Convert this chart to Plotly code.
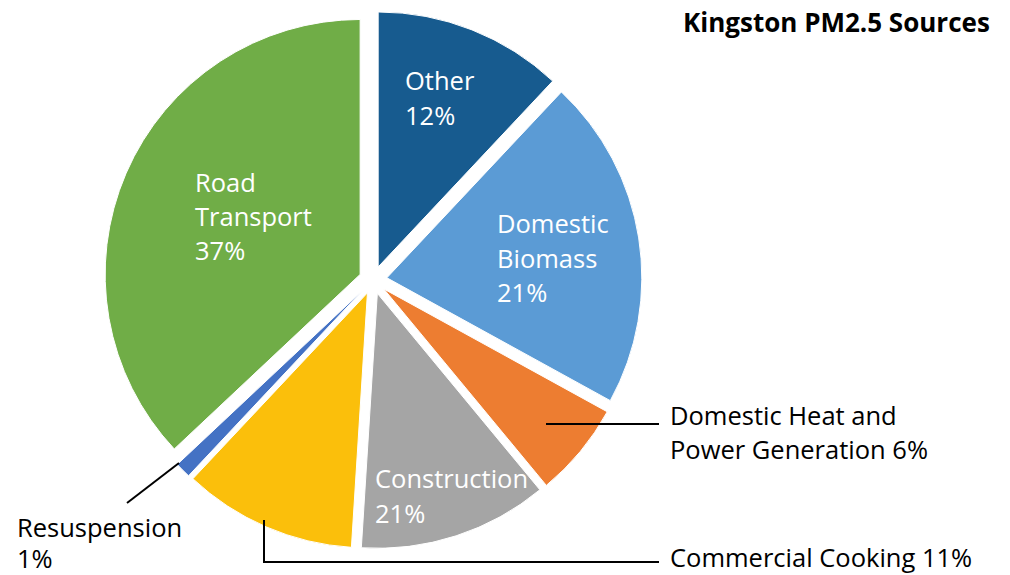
import plotly.graph_objects as go

W, H = 1010, 575

# Data
labels = ["Other", "Domestic Biomass", "Domestic Heat and Power Generation",
          "Construction", "Commercial Cooking", "Resuspension", "Road Transport"]
values = [12, 21, 6, 12, 11, 1, 37]          # visual slice sizes
label_pct = ["12%", "21%", "6%", "21%", "11%", "1%", "37%"]   # printed labels
colors = ["#175B8F", "#5B9BD5", "#ED7D31", "#A5A5A5", "#FBBF0B", "#4472C4", "#70AD47"]
title_text = "Kingston PM2.5 Sources"

FONT = "Open Sans"
FS = 25.5


def px(x):
    return x / W


def py(y):
    return 1 - y / H


fig = go.Figure()
fig.add_trace(go.Pie(
    labels=labels, values=values, sort=False, direction="clockwise", rotation=0,
    marker=dict(colors=colors, line=dict(color="white", width=1)),
    pull=[0.055] * len(values),
    textinfo="none", hoverinfo="skip", showlegend=False,
    domain=dict(x=[px(104), px(642)], y=[py(549), py(11)]),
))

annotations = []


def add_text(x, y, text, color):
    annotations.append(dict(x=px(x), y=py(y), xref="paper", yref="paper", text=text,
                            showarrow=False, xanchor="left", yanchor="middle",
                            font=dict(family=FONT, size=FS, color=color)))


# inside labels
add_text(403, 80, labels[0], "white")
add_text(403, 115, label_pct[0], "white")
add_text(495, 223, "Domestic", "white")
add_text(495, 258, "Biomass", "white")
add_text(495, 292, label_pct[1], "white")
add_text(193, 182, "Road", "white")
add_text(193, 216, "Transport", "white")
add_text(193, 250, label_pct[6], "white")
add_text(373, 478, labels[3], "white")
add_text(373, 513, label_pct[3], "white")
# outside labels
add_text(668, 415, "Domestic Heat and", "black")
add_text(668, 449, "Power Generation " + label_pct[2], "black")
add_text(668, 557, labels[4] + " " + label_pct[4], "black")
add_text(15, 527, labels[5], "black")
add_text(15, 558, label_pct[5], "black")

annotations.append(dict(x=px(992), y=py(22), xref="paper", yref="paper", text="<b>" + title_text + "</b>",
                        showarrow=False, xanchor="right", yanchor="middle",
                        font=dict(family=FONT, size=26, color="black")))

line = dict(color="black", width=2)
shapes = [
    dict(type="line", xref="paper", yref="paper", x0=px(546), y0=py(424), x1=px(659), y1=py(424), line=line),
    dict(type="path", xref="paper", yref="paper",
         path=f"M {px(264)},{py(520)} L {px(264)},{py(562)} L {px(659)},{py(562)}", line=line),
    dict(type="line", xref="paper", yref="paper", x0=px(179), y0=py(463), x1=px(127), y1=py(503), line=line),
]

fig.update_layout(
    width=W, height=H, margin=dict(l=0, r=0, t=0, b=0),
    paper_bgcolor="white", plot_bgcolor="white",
    annotations=annotations, shapes=shapes,
    font=dict(family=FONT),
)

fig.write_html("out.html", config={"displayModeBar": False},
               post_script="document.body.style.margin='0';document.body.style.overflow='hidden';")
